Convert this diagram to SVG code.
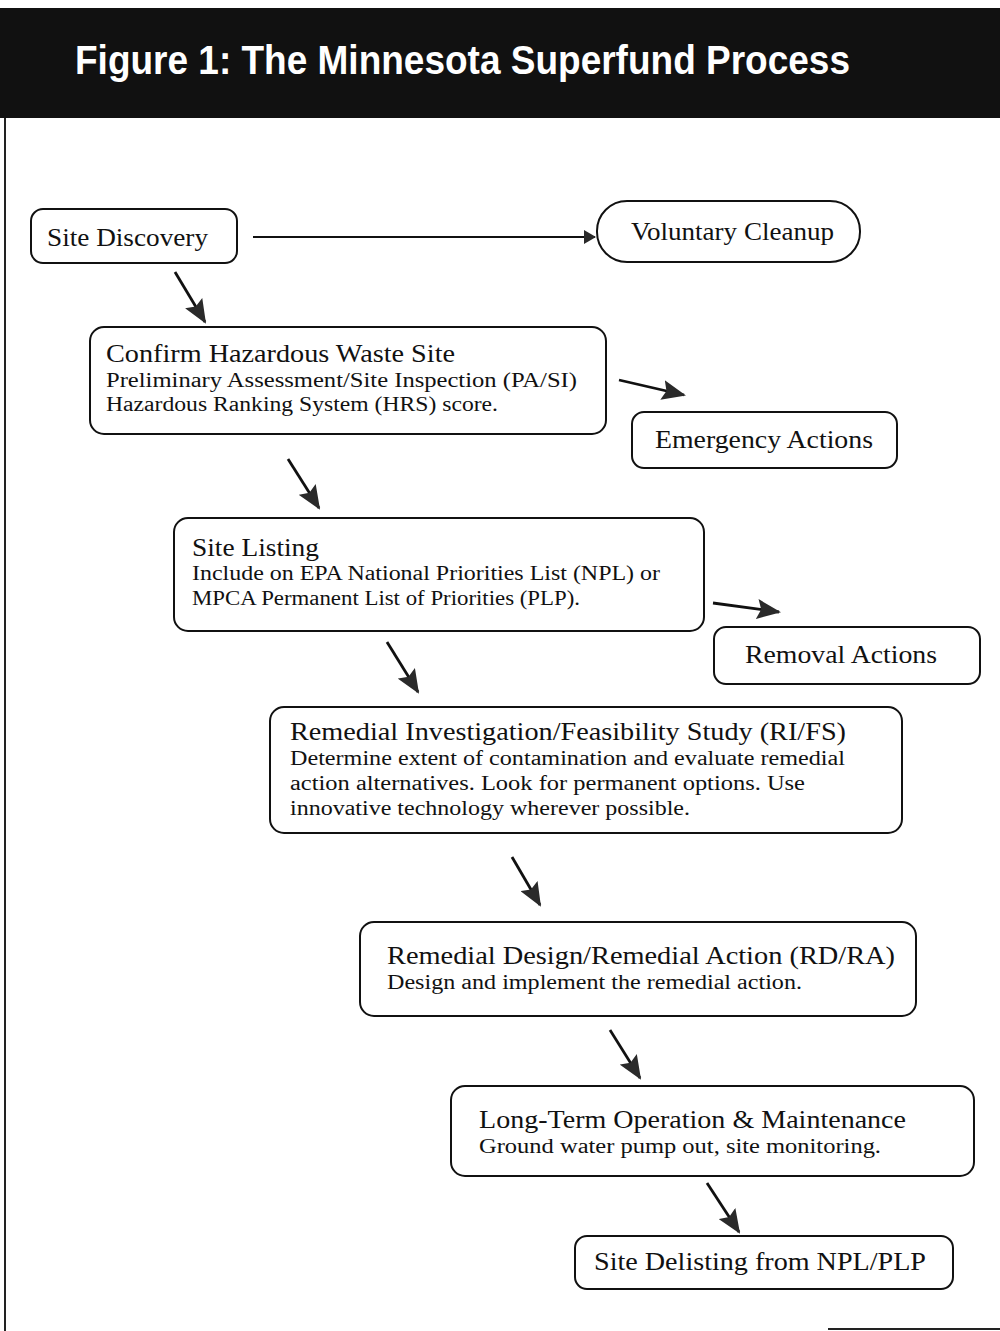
<svg xmlns="http://www.w3.org/2000/svg" width="1000" height="1331" viewBox="0 0 1000 1331">
<style>
.box{fill:#fff;stroke:#111;stroke-width:2}
.t{font-family:"Liberation Serif","Times New Roman",serif;fill:#111;font-size:25px}
.s{font-family:"Liberation Serif","Times New Roman",serif;fill:#111;font-size:20px}
.c{stroke:#111;stroke-width:2.8;fill:none;marker-end:url(#ah)}
.h{stroke:#111;stroke-width:2.2;fill:none;marker-end:url(#ahs)}
</style>
<defs>
<marker id="ah" markerUnits="userSpaceOnUse" markerWidth="24" markerHeight="20" refX="22" refY="10" orient="auto">
<path d="M0,0 L24,10 L0,20 L4,10 z" fill="#2a2a2a"/>
</marker>
<marker id="ahs" markerUnits="userSpaceOnUse" markerWidth="12" markerHeight="14" refX="11" refY="7" orient="auto">
<path d="M0,0 L12,7 L0,14 z" fill="#2a2a2a"/>
</marker>
</defs>
<rect width="1000" height="1331" fill="#fff"/>
<g id="header">
<rect x="0" y="8" width="1000" height="110" fill="#111"/>
<text x="75" y="74" font-family="Liberation Sans, Arial, sans-serif" font-weight="bold" font-size="40" fill="#fff" textLength="775" lengthAdjust="spacingAndGlyphs">Figure 1:  The Minnesota Superfund Process</text>
</g>
<g id="frame" stroke="#222" stroke-width="2">
<line x1="5" y1="118" x2="5" y2="1331"/>
<line x1="828" y1="1329" x2="1000" y2="1329"/>
</g>
<g id="connectors">
<line class="h" x1="253" y1="237" x2="595" y2="237"/>
<line class="c" x1="175" y1="272" x2="205" y2="322"/>
<line class="c" x1="619" y1="380" x2="684" y2="395"/>
<line class="c" x1="288" y1="459" x2="319" y2="508"/>
<line class="c" x1="713" y1="603" x2="779" y2="612"/>
<line class="c" x1="387" y1="642" x2="418" y2="692"/>
<line class="c" x1="512" y1="857" x2="540" y2="905"/>
<line class="c" x1="610" y1="1030" x2="640" y2="1078"/>
<line class="c" x1="707" y1="1183" x2="739" y2="1232"/>
</g>
<g id="site-discovery">
<rect class="box" x="31" y="209" width="206" height="54" rx="12"/>
<text class="t" x="47" y="246" textLength="161" lengthAdjust="spacingAndGlyphs">Site Discovery</text>
</g>
<g id="voluntary-cleanup">
<rect class="box" x="597" y="201" width="263" height="61" rx="30"/>
<text class="t" x="631" y="240" textLength="203" lengthAdjust="spacingAndGlyphs">Voluntary Cleanup</text>
</g>
<g id="confirm">
<rect class="box" x="90" y="327" width="516" height="107" rx="14"/>
<text class="t" x="106" y="362" textLength="349" lengthAdjust="spacingAndGlyphs">Confirm Hazardous Waste Site</text>
<text class="s" x="106" y="387" textLength="471" lengthAdjust="spacingAndGlyphs">Preliminary Assessment/Site Inspection (PA/SI)</text>
<text class="s" x="106" y="411" textLength="392" lengthAdjust="spacingAndGlyphs">Hazardous Ranking System (HRS) score.</text>
</g>
<g id="emergency-actions">
<rect class="box" x="632" y="412" width="265" height="56" rx="12"/>
<text class="t" x="655" y="448" textLength="218" lengthAdjust="spacingAndGlyphs">Emergency Actions</text>
</g>
<g id="site-listing">
<rect class="box" x="174" y="518" width="530" height="113" rx="14"/>
<text class="t" x="192" y="556" textLength="127" lengthAdjust="spacingAndGlyphs">Site Listing</text>
<text class="s" x="192" y="580" textLength="468" lengthAdjust="spacingAndGlyphs">Include on EPA National Priorities List (NPL) or</text>
<text class="s" x="192" y="605" textLength="388" lengthAdjust="spacingAndGlyphs">MPCA Permanent List of Priorities (PLP).</text>
</g>
<g id="removal-actions">
<rect class="box" x="714" y="627" width="266" height="57" rx="12"/>
<text class="t" x="745" y="663" textLength="192" lengthAdjust="spacingAndGlyphs">Removal Actions</text>
</g>
<g id="ri-fs">
<rect class="box" x="270" y="707" width="632" height="126" rx="14"/>
<text class="t" x="290" y="740" textLength="556" lengthAdjust="spacingAndGlyphs">Remedial Investigation/Feasibility Study (RI/FS)</text>
<text class="s" x="290" y="765" textLength="555" lengthAdjust="spacingAndGlyphs">Determine extent of contamination and evaluate remedial</text>
<text class="s" x="290" y="790" textLength="515" lengthAdjust="spacingAndGlyphs">action alternatives.  Look for permanent options.  Use</text>
<text class="s" x="290" y="815" textLength="400" lengthAdjust="spacingAndGlyphs">innovative technology wherever possible.</text>
</g>
<g id="rd-ra">
<rect class="box" x="360" y="922" width="556" height="94" rx="14"/>
<text class="t" x="387" y="964" textLength="508" lengthAdjust="spacingAndGlyphs">Remedial Design/Remedial Action (RD/RA)</text>
<text class="s" x="387" y="989" textLength="415" lengthAdjust="spacingAndGlyphs">Design and implement the remedial action.</text>
</g>
<g id="ltom">
<rect class="box" x="451" y="1086" width="523" height="90" rx="14"/>
<text class="t" x="479" y="1128" textLength="427" lengthAdjust="spacingAndGlyphs">Long-Term Operation &amp; Maintenance</text>
<text class="s" x="479" y="1153" textLength="402" lengthAdjust="spacingAndGlyphs">Ground water pump out, site monitoring.</text>
</g>
<g id="site-delisting">
<rect class="box" x="575" y="1236" width="378" height="53" rx="12"/>
<text class="t" x="594" y="1270" textLength="332" lengthAdjust="spacingAndGlyphs">Site Delisting from NPL/PLP</text>
</g>
</svg>
